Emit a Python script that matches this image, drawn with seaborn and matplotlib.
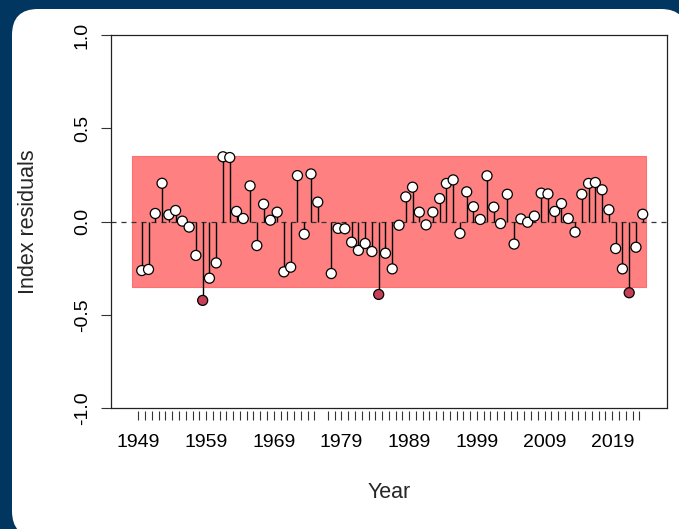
import numpy as np
import pandas as pd
import matplotlib
matplotlib.use("Agg")
import matplotlib.pyplot as plt
from matplotlib.patches import FancyBboxPatch, Rectangle
from matplotlib.transforms import IdentityTransform
import seaborn as sns

# Survey years (no index value for 1976)
years = list(range(1949, 1976)) + list(range(1977, 2024))

# Index residuals per year
residuals = [
    -0.263, -0.257, 0.043, 0.205, 0.036, 0.059, 0.002, -0.030, -0.182, -0.423,
    -0.304, -0.222, 0.347, 0.343, 0.054, 0.016, 0.191, -0.129, 0.093, 0.007,
    0.050, -0.270, -0.245, 0.246, -0.068, 0.255, 0.104,
    -0.279, -0.037, -0.039, -0.111, -0.155, -0.118, -0.161, -0.391, -0.170,
    -0.254, -0.020, 0.132, 0.184, 0.050, -0.018, 0.050, 0.123, 0.204, 0.223,
    -0.064, 0.159, 0.079, 0.011, 0.245, 0.077, -0.011, 0.146, -0.121, 0.014,
    -0.004, 0.029, 0.152, 0.148, 0.054, 0.096, 0.016, -0.057, 0.146, 0.204,
    0.209, 0.170, 0.063, -0.145, -0.254, -0.382, -0.138, 0.039,
]

# Labelled years on the x axis
label_years = [1949, 1959, 1969, 1979, 1989, 1999, 2009, 2019]

# Half-width of the acceptance band around zero
band = 0.35

W, H = 679, 529
DPI = 100

sns.set_theme(style="ticks")
plt.rcParams["font.family"] = ["Liberation Sans", "DejaVu Sans"]
plt.rcParams["font.size"] = 14

df = pd.DataFrame({"year": years, "resid": residuals})
df["x"] = df["year"] + 0.5          # values sit mid-year
df["outside"] = df["resid"].abs() > band

fig = plt.figure(figsize=(W / DPI, H / DPI), dpi=DPI, facecolor="#00365F")

# rounded white card behind the plot
card = FancyBboxPatch((12, -8), 675, H - 9 + 8,
                      boxstyle="round,pad=0,rounding_size=26",
                      facecolor="white", edgecolor="none",
                      transform=IdentityTransform(), zorder=0)
fig.add_artist(card)

left, right, top, bottom = 111, 666.7, 35, 408
ax = fig.add_axes([left / W, 1 - bottom / H, (right - left) / W, (bottom - top) / H])
ax.set_facecolor("white")

# band
ax.add_patch(Rectangle((years[0] - 1, -band), (years[-1] + 1) - (years[0] - 1), 2 * band,
                       facecolor="#FF8080", edgecolor="#FF6F6F", lw=0.8, zorder=1))

# zero reference
ax.axhline(0, color="#333333", lw=0.9, ls=(0, (4, 4)), zorder=2)

# stems
ax.vlines(df["x"], 0, df["resid"], color="black", lw=1.0, zorder=3)

# points
sns.scatterplot(data=df, x="x", y="resid", hue="outside",
                palette={False: "white", True: "#C93E57"},
                edgecolor="black", linewidth=0.9, s=52, legend=False,
                zorder=4, ax=ax)

ax.set_xlim(1944.96, 2027.04)
ax.set_ylim(-1, 1)

ax.set_xticks(years)
ax.set_xticklabels([str(y) if y in label_years else "" for y in years])
ax.set_yticks([-1, -0.5, 0, 0.5, 1])
ax.set_yticklabels(["-1.0", "-0.5", "0.0", "0.5", "1.0"], rotation=90, va="center")

ax.tick_params(axis="x", direction="out", length=6.5, width=0.8, color="#333333",
               pad=10, labelsize=14, labelcolor="black")
ax.tick_params(axis="y", direction="out", length=7.5, width=0.8, color="#333333",
               pad=7, labelsize=14, labelcolor="black")

for s in ax.spines.values():
    s.set_color("#222222")
    s.set_linewidth(0.9)
ax.spines["bottom"].set_position(("outward", 2.2))
ax.spines["bottom"].set_visible(False)
ax.plot([0, 1], [0, 0], transform=ax.transAxes, color="#222222", lw=0.9,
        clip_on=False, zorder=5)

ax.set_xlabel("")
ax.set_ylabel("")
fig.text(((left + right) / 2) / W, 1 - 493 / H, "Year", ha="center", va="center",
         fontsize=15.5)
fig.text(28 / W, 1 - ((top + bottom) / 2) / H, "Index residuals", rotation=90,
         ha="center", va="center", fontsize=15.5)

fig.savefig("out.png", dpi=DPI, facecolor=fig.get_facecolor())
